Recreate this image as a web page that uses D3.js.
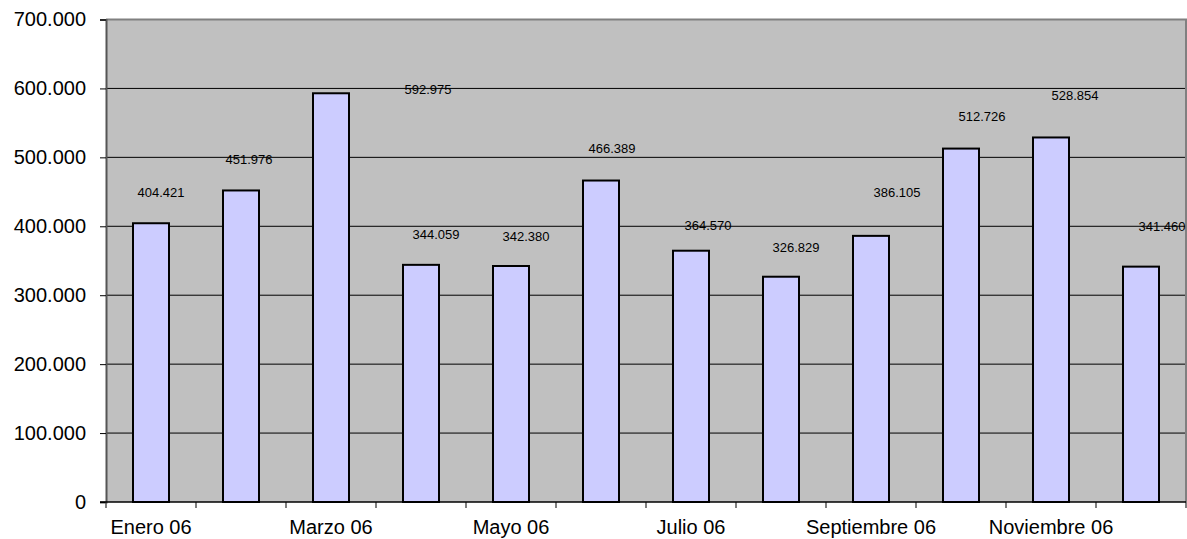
<!DOCTYPE html>
<html>
<head>
<meta charset="utf-8">
<script src="https://cdn.jsdelivr.net/npm/d3@7"></script>
<style>
  html, body { margin: 0; padding: 0; background: #ffffff; }
  svg { display: block; }
  text { font-family: Arial, "Liberation Sans", sans-serif; fill: #000; }
</style>
</head>
<body>
<svg id="chart" width="1187" height="539"></svg>
<script>
// ---- data ----
const categories = ["Enero 06", "Febrero 06", "Marzo 06", "Abril 06", "Mayo 06", "Junio 06",
                    "Julio 06", "Agosto 06", "Septiembre 06", "Octubre 06", "Noviembre 06", "Diciembre 06"];
const values = [404421, 451976, 592975, 344059, 342380, 466389, 364570, 326829, 386105, 512726, 528854, 341460];
const yTicks = [0, 100000, 200000, 300000, 400000, 500000, 600000, 700000];
const shownLabels = ["Enero 06", "Marzo 06", "Mayo 06", "Julio 06", "Septiembre 06", "Noviembre 06"];

// label nudges (manual placement in the original), px relative to bar centre / bar top
const labelDx = [10, 8, 97, 15, 15, 11, 17, 15, 26, 21, 24, 21];
const labelDy = [-31, -31, -3.5, -30, -30, -32, -25.5, -29, -43, -32, -42, -40];

// ---- layout ----
const plotL = 106, plotR = 1186, plotT = 19.5, plotB = 502;
const svg = d3.select("#chart");

const loc = d3.formatLocale({ decimal: ",", thousands: ".", grouping: [3], currency: ["", ""] });
const fmt = loc.format(",");

const x = d3.scaleBand().domain(categories).range([plotL, plotR]).paddingInner(0.6).paddingOuter(0.3);
const y = d3.scaleLinear().domain([0, 700000]).range([plotB, plotT]);

// plot background
svg.append("rect").attr("x", plotL).attr("y", plotT).attr("width", plotR - plotL).attr("height", plotB - plotT)
  .attr("fill", "#c0c0c0");

// gridlines
svg.append("g").selectAll("line").data(yTicks.filter(d => d > 0 && d < 700000)).join("line")
  .attr("x1", plotL).attr("x2", plotR)
  .attr("y1", d => y(d)).attr("y2", d => y(d))
  .attr("stroke", "#000").attr("stroke-width", 1);

// frame (top/right grey border)
svg.append("path")
  .attr("d", `M${plotL},${plotT}H${plotR}V${plotB}`)
  .attr("fill", "none").attr("stroke", "#808080").attr("stroke-width", 2);

// bars
svg.append("g").selectAll("rect").data(values).join("rect")
  .attr("x", (d, i) => x(categories[i]))
  .attr("y", d => y(d))
  .attr("width", x.bandwidth())
  .attr("height", d => y(0) - y(d))
  .attr("fill", "#ccccff")
  .attr("stroke", "#000").attr("stroke-width", 2);

// y axis
const yAxis = d3.axisLeft(y).tickValues(yTicks).tickFormat(fmt).tickSize(6).tickPadding(14);
const gy = svg.append("g").attr("transform", `translate(${plotL},0)`).call(yAxis);
gy.select(".domain").attr("stroke", "#555").attr("stroke-width", 2);
gy.selectAll(".tick line").attr("stroke", "#000");
gy.selectAll(".tick text").attr("font-size", 20).attr("font-family", "Arial, 'Liberation Sans', sans-serif");

// x axis (labels every other month)
const xAxis = d3.axisBottom(x).tickValues(shownLabels).tickSize(0).tickPadding(18);
const gx = svg.append("g").attr("transform", `translate(0,${plotB})`).call(xAxis);
gx.select(".domain").remove();
gx.selectAll(".tick text").attr("font-size", 20).attr("font-family", "Arial, 'Liberation Sans', sans-serif");

// x boundary ticks
const step = x.step();
const boundaries = d3.range(categories.length + 1).map(i => x(categories[0]) - x.paddingOuter() * step + i * step);
svg.append("g").selectAll("line").data(boundaries).join("line")
  .attr("x1", d => d).attr("x2", d => d)
  .attr("y1", plotB).attr("y2", plotB + 6)
  .attr("stroke", "#555").attr("stroke-width", 1.5);

// x axis baseline
svg.append("line").attr("x1", plotL - 6).attr("x2", plotR).attr("y1", plotB).attr("y2", plotB)
  .attr("stroke", "#000").attr("stroke-width", 1.5);

// data labels
svg.append("g").selectAll("text").data(values).join("text")
  .attr("x", (d, i) => x(categories[i]) + x.bandwidth() / 2 + labelDx[i])
  .attr("y", (d, i) => y(d) + labelDy[i])
  .attr("dy", "0.35em")
  .attr("text-anchor", "middle")
  .attr("font-size", 13)
  .text(d => fmt(d));
</script>
</body>
</html>
